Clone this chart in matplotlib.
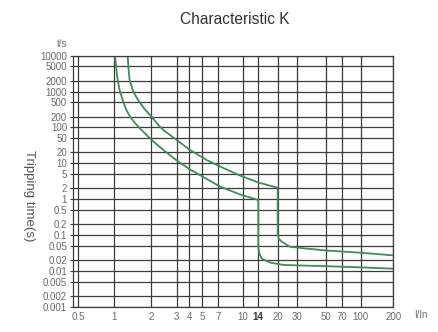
import numpy as np
import matplotlib
matplotlib.use("Agg")
import matplotlib.pyplot as plt
from matplotlib.ticker import FixedLocator, NullLocator, FixedFormatter

plt.rcParams['font.family'] = ['Liberation Sans', 'DejaVu Sans']

# ---------------- data ----------------
TITLE = "Characteristic K"
X_TICKS = [0.5, 1, 2, 3, 4, 5, 7, 10, 14, 20, 30, 50, 70, 100, 200]
X_TICK_LABELS = ["0.5", "1", "2", "3", "4", "5", "7", "10", "14", "20", "30", "50", "70", "100", "200"]
Y_TICKS = [10000, 5000, 2000, 1000, 500, 200, 100, 50, 20, 10, 5, 2, 1,
           0.5, 0.2, 0.1, 0.05, 0.02, 0.01, 0.005, 0.002, 0.001]
Y_TICK_LABELS = ["10000", "5000", "2000", "1000", "500", "200", "100", "50", "20", "10", "5", "2", "1",
                 "0.5", "0.2", "0.1", "0.05", "0.02", "0.01", "0.005", "0.002", "0.001"]

# lower (cold) tripping curve
lower_I = [1.013, 1.036, 1.066, 1.114, 1.185, 1.247, 1.332, 1.451, 1.625, 2.02, 2.43,
           3.0, 4.05, 5.11, 7.17, 9.61, 14,
           14, 14.3, 14.9, 17.4, 22.5, 30, 50, 100, 200]
lower_t = [10000, 4540, 2100, 990, 521, 326, 212, 142, 93, 44.6, 23.5,
           12.0, 6.71, 4.14, 2.25, 1.35, 0.946,
           0.045, 0.03, 0.022, 0.017, 0.0146, 0.0142, 0.0135, 0.0125, 0.0115]
# upper (hot) tripping curve
upper_I = [1.288, 1.307, 1.335, 1.431, 1.595, 1.786, 2.02, 2.20, 2.43, 3.0, 4.05,
           5.48, 7.53, 9.61, 14, 20,
           20, 20.4, 21.7, 25.8, 33.4, 50, 100, 200]
upper_t = [10000, 4540, 2100, 990, 528, 316, 199, 129, 84.7, 44.6, 23.5,
           12.3, 7.38, 4.56, 2.91, 2.08,
           0.11, 0.08, 0.065, 0.047, 0.0426, 0.037, 0.032, 0.027]

# ---------------- irregular log scale of the printed chart ----------------
_GRID_POS = [78.3, 114.3, 151.0, 176.7, 189.3, 202.3, 218.3, 242.7, 258.3,
             277.7, 297.3, 326.0, 341.7, 360.7, 393.3]
_LK = np.log10(np.array(X_TICKS, dtype=float))
_GP = np.array(_GRID_POS)


def _fwd(v):
    v = np.asarray(v, dtype=float)
    lv = np.log10(np.clip(v, 1e-9, None))
    out = np.interp(lv, _LK, _GP)
    s0 = (_GP[1] - _GP[0]) / (_LK[1] - _LK[0])
    s1 = (_GP[-1] - _GP[-2]) / (_LK[-1] - _LK[-2])
    out = np.where(lv < _LK[0], _GP[0] + (lv - _LK[0]) * s0, out)
    out = np.where(lv > _LK[-1], _GP[-1] + (lv - _LK[-1]) * s1, out)
    return out


def _inv(p):
    p = np.asarray(p, dtype=float)
    out = np.interp(p, _GP, _LK)
    s0 = (_LK[1] - _LK[0]) / (_GP[1] - _GP[0])
    s1 = (_LK[-1] - _LK[-2]) / (_GP[-1] - _GP[-2])
    out = np.where(p < _GP[0], _LK[0] + (p - _GP[0]) * s0, out)
    out = np.where(p > _GP[-1], _LK[-1] + (p - _GP[-1]) * s1, out)
    return 10 ** out


# ---------------- figure ----------------
W, H = 439, 332
fig = plt.figure(figsize=(W / 100, H / 100), dpi=100)
ax = fig.add_axes([72.7 / W, 1 - 306.7 / H, (393.3 - 72.7) / W, (306.7 - 55.7) / H])

ax.set_xscale('function', functions=(_fwd, _inv))
ax.set_yscale('log')
ax.set_xlim(0.449, 200)
ax.set_ylim(0.001, 10000)

grid_c = '#3c3c3c'
ax.xaxis.set_major_locator(FixedLocator(X_TICKS))
ax.xaxis.set_major_formatter(FixedFormatter(X_TICK_LABELS))
ax.xaxis.set_minor_locator(NullLocator())
ax.yaxis.set_major_locator(FixedLocator(Y_TICKS))
ax.yaxis.set_major_formatter(FixedFormatter(Y_TICK_LABELS))
ax.yaxis.set_minor_locator(NullLocator())
ax.grid(True, which='major', color=grid_c, linewidth=0.9)
ax.set_axisbelow(True)

for sp in ax.spines.values():
    sp.set_color(grid_c)
    sp.set_linewidth(0.9)

ax.tick_params(axis='x', length=0, pad=4, labelsize=7, labelcolor='#6a6a6a')
ax.tick_params(axis='y', length=2.5, width=0.8, color=grid_c, pad=1.5,
               labelsize=7, labelcolor='#6a6a6a')
for lbl in ax.get_xticklabels():
    if lbl.get_text() == "14":
        lbl.set_fontweight('bold')
        lbl.set_color('#333333')

green = '#3d8d5a'
ax.plot(lower_I, lower_t, color=green, lw=1.3, solid_joinstyle='round', clip_on=True)
ax.plot(upper_I, upper_t, color=green, lw=1.3, solid_joinstyle='round', clip_on=True)

fig.text(235 / W, 1 - 19 / H, TITLE, ha='center', va='center', fontsize=11.2, color='#333333')
fig.text(62 / W, 1 - 44 / H, "t/s", ha='center', va='center', fontsize=7, color='#6a6a6a')
fig.text(421 / W, 1 - 315 / H, "I/In", ha='center', va='center', fontsize=7, color='#6a6a6a')
fig.text(29 / W, 1 - 196 / H, "Tripping time(s)", ha='center', va='center', rotation=270,
         fontsize=9.5, color='#555555')

fig.savefig("out.png", dpi=100)
